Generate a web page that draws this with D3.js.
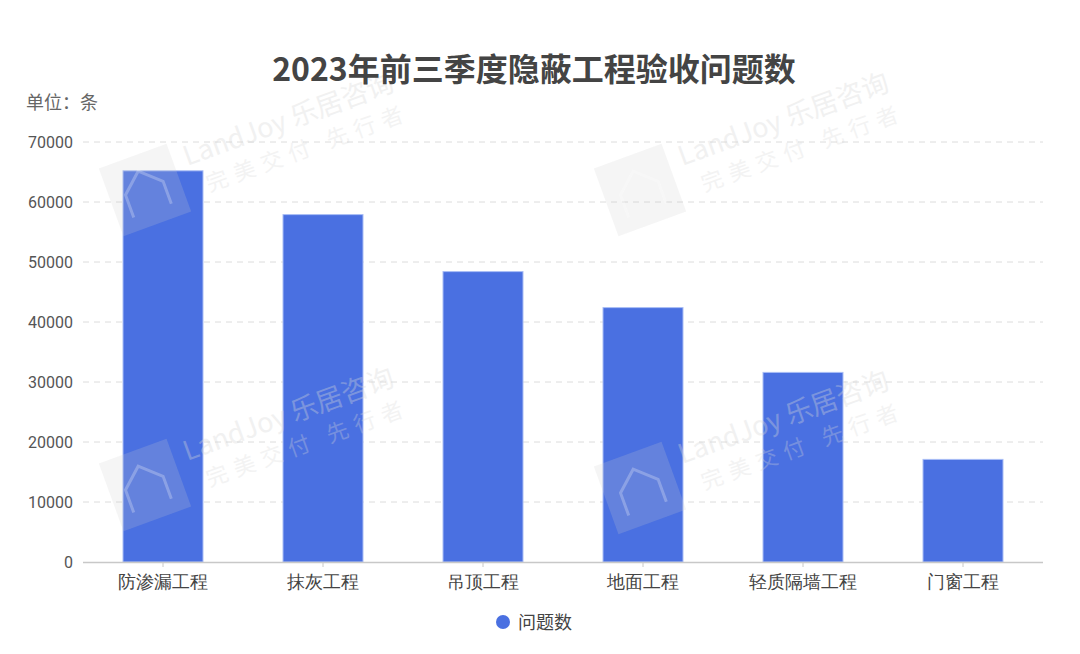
<!DOCTYPE html>
<html><head><meta charset="utf-8">
<script src="https://cdn.jsdelivr.net/npm/d3@7"></script>
<style>
body{margin:0;background:#fff;}
svg{display:block;font-family:"Noto Sans CJK SC","Noto Sans",sans-serif;}
</style></head>
<body><svg id="chart" width="1080" height="654"></svg>
<script>
const categories = ["防渗漏工程","抹灰工程","吊顶工程","地面工程","轻质隔墙工程","门窗工程"];
const values = [65200, 57900, 48400, 42400, 31600, 17100];
const yTicks = [0,10000,20000,30000,40000,50000,60000,70000];
const seriesName = "问题数";
const titleText = "2023年前三季度隐蔽工程验收问题数";
const unitText = "单位：条";

const W=1080,H=654;
const m={l:83,r:37,t:142,b:92};
const svg=d3.select("#chart");
svg.append("rect").attr("width",W).attr("height",H).attr("fill","#fff");

const x=d3.scaleBand().domain(categories).range([m.l,W-m.r]).paddingInner(0.5).paddingOuter(0.25);
const y=d3.scaleLinear().domain([0,70000]).range([H-m.b,m.t]);

// grid
svg.append("g").selectAll("line").data(yTicks.filter(d=>d>0)).join("line")
  .attr("x1",m.l).attr("x2",W-m.r).attr("y1",d=>y(d)).attr("y2",d=>y(d))
  .attr("stroke","#dcdcdc").attr("stroke-width",1).attr("stroke-dasharray","6,5");

// y labels
const yAxis=d3.axisLeft(y).tickValues(yTicks).tickSize(0).tickPadding(10).tickFormat(d3.format("d"));
const ya=svg.append("g").attr("transform",`translate(${m.l},0)`).call(yAxis);
ya.select(".domain").remove();
ya.selectAll("text").attr("font-size",16).attr("fill","#555").attr("font-family","Roboto,'Noto Sans',sans-serif");

// bars
svg.append("g").selectAll("rect").data(categories).join("rect")
  .attr("x",d=>x(d)).attr("width",x.bandwidth())
  .attr("y",(d,i)=>y(values[i])).attr("height",(d,i)=>y(0)-y(values[i]))
  .attr("fill","#4a70e1").attr("stroke","#a9bdf5").attr("stroke-width",1);

// x axis
const xAxis=d3.axisBottom(x).tickSize(5).tickPadding(7).tickSizeOuter(0);
const xa=svg.append("g").attr("transform",`translate(0,${y(0)})`).call(xAxis);
xa.select(".domain").attr("stroke","#c8c8c8").attr("stroke-width",1.5)
  .attr("d",`M${m.l},0.5H${W-m.r}`);
xa.selectAll(".tick line").attr("stroke","#c8c8c8");
xa.selectAll("text").attr("font-size",18).attr("fill","#444").attr("dy","0.8em");

// watermarks
const wmPos=[[145,190],[640,190],[145,485],[640,488]];
wmPos.forEach(([cx,cy])=>{
  const g=svg.append("g").attr("transform",`translate(${cx},${cy}) rotate(-20)`).attr("pointer-events","none");
  g.append("rect").attr("x",-36).attr("y",-36).attr("width",72).attr("height",72)
    .attr("fill","#cfcfcf").attr("opacity",0.2);
  g.append("path").attr("d","M-20,22 V-2 L0,-20 L20,-2 V22").attr("fill","none")
    .attr("stroke","#ffffff").attr("stroke-width",3).attr("opacity",0.25);
  g.append("text").attr("x",48).attr("y",-8).attr("font-size",27).attr("font-weight",400)
    .attr("fill","#d8d8d8").attr("opacity",0.35).text("LandJoy 乐居咨询");
  g.append("text").attr("x",60).attr("y",24).attr("font-size",22).attr("letter-spacing",7)
    .attr("fill","#d8d8d8").attr("opacity",0.3).text("完美交付 先行者");
});

// title
svg.append("text").attr("x",534).attr("y",81).attr("text-anchor","middle")
  .attr("font-size",32).attr("font-weight",700).attr("fill","#444").text(titleText);
svg.append("text").attr("x",26).attr("y",109).attr("font-size",18).attr("fill","#666").text(unitText);

// legend
svg.append("circle").attr("cx",503).attr("cy",622).attr("r",7).attr("fill","#4a70e1");
svg.append("text").attr("x",518).attr("y",629).attr("font-size",18).attr("fill","#444").text(seriesName);
</script></body></html>
